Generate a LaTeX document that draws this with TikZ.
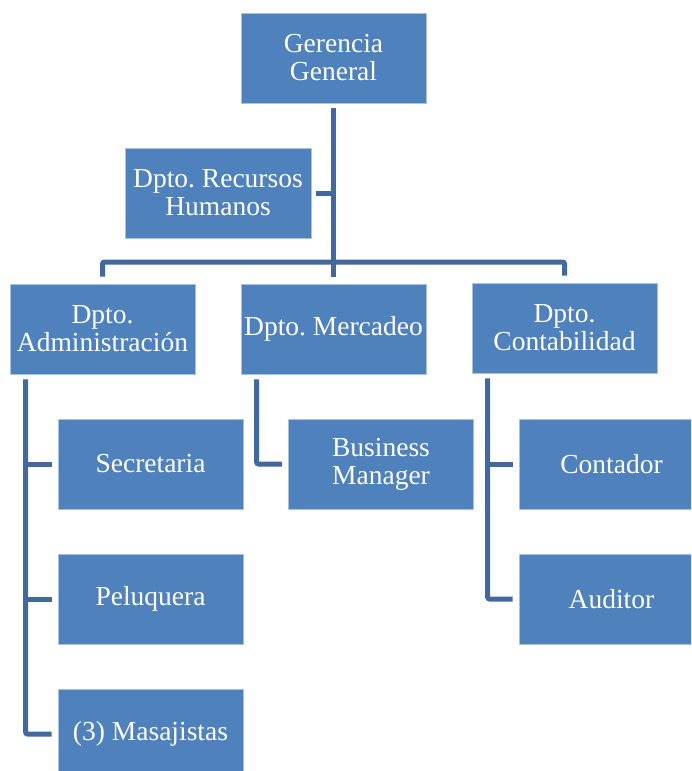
\documentclass[tikz,border=0pt]{standalone}
\usepackage{fontspec}
\setmainfont{Liberation Serif}
\usetikzlibrary{calc}
\definecolor{boxblue}{HTML}{4F81BD}
\definecolor{boxedge}{HTML}{A9C1E0}
\definecolor{linkblue}{HTML}{41699C}
\begin{document}
\frenchspacing
\begin{tikzpicture}[x=1pt,y=-1pt,
  orgbox/.style={fill=boxblue, draw=boxedge, line width=0.8pt, text=white,
    minimum width=185pt, minimum height=90pt, inner sep=0pt, align=center,
    font=\fontsize{27.5}{28}\selectfont},
  link/.style={draw=linkblue, line width=5pt, rounded corners=2pt}]
\useasboundingbox (0,0) rectangle (691,771);
\clip (0,0) rectangle (691,771);
\node[orgbox] (gg) at (333.5,58) {Gerencia\\General};
\node[orgbox, minimum width=186pt] (rh) at (218,193) {Dpto. Recursos\\Humanos};
\node[orgbox] (adm) at (102.5,329) {Dpto.\\Administración};
\node[orgbox] (mer) at (333.5,329) {Dpto. Mercadeo};
\node[orgbox] (con) at (564.5,328) {Dpto.\\Contabilidad};
\node[orgbox] (sec) at (150.5,464) {Secretaria};
\node[orgbox] (pel) at (150.5,599) {Peluquera};
\node[orgbox] (mas) at (150.5,734) {(3) Masajistas};
\node[orgbox] (bm) at (381,464) {Business\\Manager};
\node[orgbox] (cont) at (611.5,464) {Contador};
\node[orgbox] (aud) at (611.5,599) {Auditor};
% main trunk
\coordinate (trunktop) at ($(gg.south)+(0,5)$);
\coordinate (trunkbot) at ($(mer.north)+(0,-7)$);
\coordinate (busy) at (0,262);
\draw[link] (trunktop) -- (trunkbot);
\draw[link] ($(rh.east)+(5,0)$) -- (gg.south |- rh.east);
\draw[link] ($(adm.north)+(0,-7)$) -- (adm.north |- busy) -- (con.north |- busy) -- ($(con.north)+(0,-7)$);
% administracion
\coordinate (a0) at ($(adm.south west)+(16,5)$);
\draw[link] (a0) -- (a0 |- mas.west) -- ($(mas.west)+(-6,0)$);
\draw[link] (a0 |- sec.west) -- ($(sec.west)+(-6,0)$);
\draw[link] (a0 |- pel.west) -- ($(pel.west)+(-6,0)$);
% mercadeo
\coordinate (m0) at ($(mer.south west)+(16,5)$);
\draw[link] (m0) -- (m0 |- bm.west) -- ($(bm.west)+(-6,0)$);
% contabilidad
\coordinate (c0) at ($(con.south west)+(16,5)$);
\draw[link] (c0) -- (c0 |- aud.west) -- ($(aud.west)+(-6,0)$);
\draw[link] (c0 |- cont.west) -- ($(cont.west)+(-6,0)$);
\end{tikzpicture}
\end{document}
